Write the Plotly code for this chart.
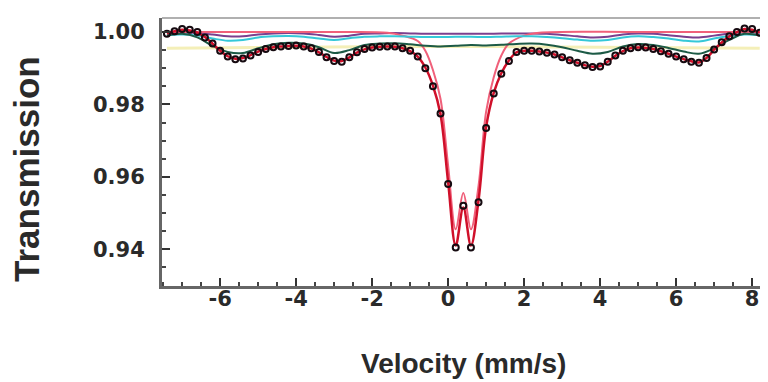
import plotly.graph_objects as go

# ---- measured data (velocity in mm/s, transmission) ----
velocity = [-7.4, -7.2, -7.0, -6.8, -6.6, -6.4, -6.2, -6.0, -5.8, -5.6, -5.4, -5.2, -5.0, -4.8,
            -4.6, -4.4, -4.2, -4.0, -3.8, -3.6, -3.4, -3.2, -3.0, -2.8, -2.6, -2.4, -2.2, -2.0,
            -1.8, -1.6, -1.4, -1.2, -1.0, -0.8, -0.6, -0.4, -0.2, 0.0, 0.2, 0.4, 0.6, 0.8,
            1.0, 1.2, 1.4, 1.6, 1.8, 2.0, 2.2, 2.4, 2.6, 2.8, 3.0, 3.2, 3.4, 3.6, 3.8, 4.0,
            4.2, 4.4, 4.6, 4.8, 5.0, 5.2, 5.4, 5.6, 5.8, 6.0, 6.2, 6.4, 6.6, 6.8, 7.0, 7.2,
            7.4, 7.6, 7.8, 8.0, 8.2]
transmission = [0.9995, 1.0002, 1.0008, 1.0006, 1.0000, 0.9985, 0.9968, 0.9948, 0.9932, 0.9925,
                0.9927, 0.9935, 0.9945, 0.9953, 0.9958, 0.9960, 0.9961, 0.9963, 0.9960, 0.9955,
                0.9945, 0.9930, 0.9920, 0.9918, 0.9930, 0.9944, 0.9953, 0.9957, 0.9959, 0.9960,
                0.9960, 0.9955, 0.9948, 0.9932, 0.9900, 0.9850, 0.9775, 0.9580, 0.9405, 0.9520,
                0.9405, 0.9530, 0.9735, 0.9830, 0.9885, 0.9920, 0.9945, 0.9948, 0.9948, 0.9946,
                0.9943, 0.9938, 0.9930, 0.9922, 0.9915, 0.9908, 0.9903, 0.9905, 0.9918, 0.9935,
                0.9948, 0.9955, 0.9958, 0.9957, 0.9953, 0.9947, 0.9940, 0.9932, 0.9925, 0.9918,
                0.9915, 0.9928, 0.9952, 0.9972, 0.9988, 1.0000, 1.0010, 1.0008, 0.9998]
total_fit = [0.9996, 1.0002, 1.0006, 1.0004, 0.9998, 0.9986, 0.9968, 0.9948, 0.9933, 0.9926,
             0.9928, 0.9936, 0.9946, 0.9953, 0.9958, 0.9960, 0.9961, 0.9962, 0.9960, 0.9954,
             0.9944, 0.9931, 0.9921, 0.9920, 0.9930, 0.9943, 0.9952, 0.9957, 0.9959, 0.9960,
             0.9959, 0.9955, 0.9947, 0.9932, 0.9902, 0.9852, 0.9772, 0.9585, 0.9410, 0.9515,
             0.9410, 0.9535, 0.9738, 0.9832, 0.9886, 0.9921, 0.9944, 0.9948, 0.9948, 0.9946,
             0.9943, 0.9938, 0.9930, 0.9922, 0.9915, 0.9908, 0.9904, 0.9906, 0.9918, 0.9934,
             0.9947, 0.9955, 0.9957, 0.9956, 0.9953, 0.9947, 0.9940, 0.9932, 0.9925, 0.9919,
             0.9916, 0.9928, 0.9951, 0.9971, 0.9988, 1.0000, 1.0008, 1.0006, 0.9998]

# ---- doublet component ----
v_doublet = [-7.4, -3.0, -1.6, -1.2, -0.8, -0.6, -0.4, -0.2, 0.0, 0.2, 0.4, 0.6, 0.8, 1.0,
             1.2, 1.4, 1.6, 2.0, 2.4, 5.0, 8.2]
doublet = [1.0000, 1.0000, 0.9998, 0.9990, 0.9975, 0.9948, 0.9895, 0.9815, 0.9630, 0.9455,
           0.9555, 0.9455, 0.9575, 0.9780, 0.9875, 0.9935, 0.9968, 0.9990, 0.9998, 1.0000, 1.0000]

# ---- sextet components ----
v_comp = [-7.4, -7.0, -6.6, -6.2, -5.8, -5.4, -5.0, -4.6, -4.2, -3.8, -3.4, -3.0, -2.6, -2.2,
          -1.8, -1.4, -1.0, -0.6, -0.2, 0.2, 0.6, 1.0, 1.4, 1.8, 2.2, 2.6, 3.0, 3.4, 3.8, 4.2,
          4.6, 5.0, 5.4, 5.8, 6.2, 6.6, 7.0, 7.4, 7.8, 8.2]
cyan_comp = [0.9992, 0.9993, 0.9990, 0.9982, 0.9976, 0.9978, 0.9985, 0.9988, 0.9989, 0.9987,
             0.9982, 0.9978, 0.9983, 0.9987, 0.9988, 0.9988, 0.9987, 0.9986, 0.9986, 0.9987,
             0.9987, 0.9986, 0.9987, 0.9988, 0.9988, 0.9986, 0.9983, 0.9979, 0.9976, 0.9978,
             0.9985, 0.9988, 0.9986, 0.9982, 0.9976, 0.9974, 0.9982, 0.9989, 0.9993, 0.9992]
green_comp = [0.9990, 0.9995, 0.9985, 0.9962, 0.9945, 0.9942, 0.9955, 0.9966, 0.9970, 0.9968,
              0.9958, 0.9942, 0.9950, 0.9964, 0.9968, 0.9969, 0.9966, 0.9962, 0.9960, 0.9962,
              0.9964, 0.9963, 0.9965, 0.9967, 0.9968, 0.9965, 0.9958, 0.9948, 0.9940, 0.9945,
              0.9960, 0.9967, 0.9964, 0.9956, 0.9946, 0.9940, 0.9955, 0.9978, 0.9995, 0.9990]
purple_comp = [0.9998, 0.9999, 0.9997, 0.9993, 0.9988, 0.9988, 0.9993, 0.9996, 0.9997, 0.9996,
               0.9992, 0.9987, 0.9990, 0.9995, 0.9996, 0.9997, 0.9996, 0.9995, 0.9995, 0.9995,
               0.9995, 0.9995, 0.9996, 0.9996, 0.9996, 0.9995, 0.9992, 0.9988, 0.9985, 0.9987,
               0.9993, 0.9996, 0.9995, 0.9991, 0.9987, 0.9985, 0.9990, 0.9996, 0.9999, 0.9998]
v_broad = [-7.4, -4.0, 0.0, 4.0, 8.2]
broad_comp = [0.9955, 0.9958, 0.9960, 0.9958, 0.9955]

x_ticks = [-6, -4, -2, 0, 2, 4, 6, 8]
x_ticktext = ["-6", "-4", "-2", "0", "2", "4", "6", "8"]
y_ticks = [0.94, 0.96, 0.98, 1.00]
y_ticktext = ["0.94", "0.96", "0.98", "1.00"]

fig = go.Figure()
fig.add_trace(go.Scatter(x=v_broad, y=broad_comp, mode="lines",
                         line=dict(color="#f4efb8", width=3, shape="spline")))
fig.add_trace(go.Scatter(x=v_comp, y=purple_comp, mode="lines",
                         line=dict(color="#7b3f8e", width=2, shape="spline")))
fig.add_trace(go.Scatter(x=v_doublet, y=doublet, mode="lines",
                         line=dict(color="#f0607a", width=2, shape="spline")))
fig.add_trace(go.Scatter(x=v_comp, y=cyan_comp, mode="lines",
                         line=dict(color="#35c8d8", width=2, shape="spline")))
fig.add_trace(go.Scatter(x=v_comp, y=green_comp, mode="lines",
                         line=dict(color="#1c5a46", width=2, shape="spline")))
fig.add_trace(go.Scatter(x=velocity, y=total_fit, mode="lines",
                         line=dict(color="#d0102a", width=2.5, shape="spline")))
fig.add_trace(go.Scatter(x=velocity, y=transmission, mode="markers",
                         marker=dict(symbol="circle-open", size=6, color="#150a10",
                                     line=dict(width=2, color="#150a10"))))

font_ticks = dict(family="DejaVu Sans", size=21, color="#2a2a2a", weight="bold")

fig.update_layout(
    width=768, height=382,
    margin=dict(l=154, r=14, t=10, b=104),
    paper_bgcolor="white", plot_bgcolor="white",
    showlegend=False,
    xaxis=dict(range=[-7.53, 8.26], tickmode="array", tickvals=x_ticks, ticktext=x_ticktext,
               ticks="inside", ticklen=8, tickwidth=2, tickcolor="#333",
               minor=dict(tickmode="linear", tick0=0, dtick=0.5, ticks="inside", ticklen=4,
                          tickwidth=1.5, tickcolor="#444"),
               showline=True, linecolor="#666", linewidth=3, showgrid=False, zeroline=False,
               tickfont=font_ticks, ticklabelstandoff=-8),
    yaxis=dict(range=[0.92983, 1.00387], tickmode="array", tickvals=y_ticks, ticktext=y_ticktext,
               ticks="inside", ticklen=8, tickwidth=2, tickcolor="#333",
               minor=dict(tickmode="linear", tick0=0.94, dtick=0.005, ticks="inside", ticklen=4,
                          tickwidth=1.5, tickcolor="#444"),
               showline=True, linecolor="#666", linewidth=3, showgrid=False, zeroline=False,
               tickfont=font_ticks, ticklabelstandoff=10),
    shapes=[dict(type="line", xref="paper", yref="paper", x0=0, x1=1, y0=1, y1=1,
                 line=dict(color="#b0b0b0", width=2))],
    annotations=[
        dict(text="Transmission", xref="paper", yref="paper", x=-0.225, y=0.4366,
             xanchor="center", yanchor="middle", textangle=-90, showarrow=False,
             font=dict(family="Liberation Sans", size=35, color="#2a2a2a", weight="bold")),
        dict(text="Velocity (mm/s)", xref="paper", yref="paper", x=0.5017, y=-0.29,
             xanchor="center", yanchor="middle", showarrow=False,
             font=dict(family="Liberation Sans", size=28, color="#2a2a2a", weight="bold")),
    ],
)

fig.write_html("out.html")
